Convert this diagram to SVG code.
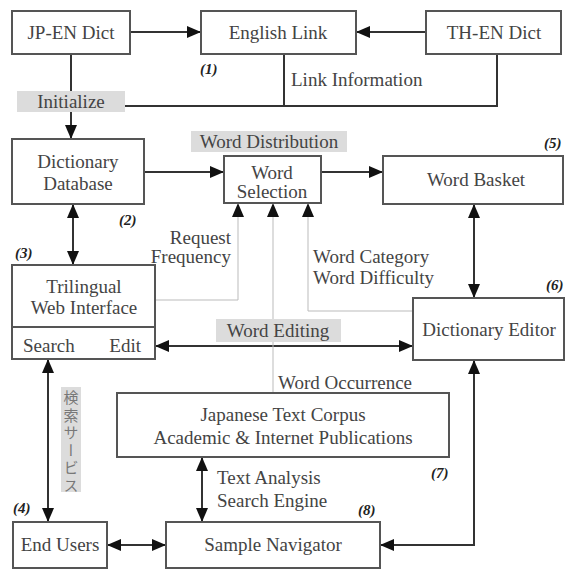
<svg xmlns="http://www.w3.org/2000/svg" width="566" height="569" viewBox="0 0 566 569" font-family="Liberation Serif, DejaVu Serif, serif">
<defs>
<marker id="ah" markerUnits="userSpaceOnUse" markerWidth="14" markerHeight="12" refX="14" refY="6" orient="auto-start-reverse" viewBox="0 0 14 12">
<path d="M0,0 L14,6 L0,12 z" fill="#111"/>
</marker>
<style>
.box{fill:#fff;stroke:#555;stroke-width:2}
.tag{fill:#dcdcdc;stroke:none}
.t{font-size:19px;fill:#444}
.c{text-anchor:middle}
.e{text-anchor:end}
.n{font-size:15px;font-weight:bold;font-style:italic;fill:#222}
.ln{fill:none;stroke:#333;stroke-width:2}
.g{fill:none;stroke:#bbb;stroke-width:1}
.a{marker-end:url(#ah)}
.b{marker-start:url(#ah);marker-end:url(#ah)}
</style>
</defs>
<rect width="566" height="569" fill="#fff"/>

<g id="connectors">
<line class="ln a" x1="130" y1="32" x2="201" y2="32"/>
<line class="ln a" x1="426" y1="32" x2="356" y2="32"/>
<line class="ln" x1="71" y1="54" x2="71" y2="91"/>
<line class="ln a" x1="71" y1="112" x2="71" y2="139"/>
<polyline class="ln" points="125,106 497,106 497,54"/>
<line class="ln" x1="284" y1="54" x2="284" y2="106"/>
<line class="ln a" x1="144" y1="172" x2="224" y2="172"/>
<line class="ln a" x1="321" y1="172" x2="383" y2="172"/>
<line class="ln b" x1="73" y1="204" x2="73" y2="265"/>
<line class="ln b" x1="474" y1="204" x2="474" y2="298"/>
<line class="ln b" x1="155" y1="346" x2="413" y2="346"/>
<line class="ln b" x1="48" y1="359" x2="48" y2="522"/>
<line class="ln b" x1="202" y1="457" x2="202" y2="522"/>
<line class="ln b" x1="107" y1="545" x2="166" y2="545"/>
<polyline class="ln b" points="474,360 474,545 380,545"/>
<polyline class="g" points="155,300 238,300 238,216"/>
<line class="g" x1="273" y1="393" x2="273" y2="216"/>
<polyline class="g" points="413,311 308,311 308,216"/>
<path d="M232,217 L238,203 L244,217 z M267,217 L273,203 L279,217 z M302,217 L308,203 L314,217 z" fill="#111"/>
</g>

<g id="jpen"><rect class="box" x="12" y="11" width="118" height="43"/><text class="t c" x="71" y="39">JP-EN Dict</text></g>
<g id="englishlink"><rect class="box" x="201" y="11" width="155" height="43"/><text class="t c" x="278" y="39">English Link</text></g>
<g id="then"><rect class="box" x="426" y="11" width="135" height="43"/><text class="t c" x="494" y="39">TH-EN Dict</text></g>
<g id="lbl1"><text class="n" x="200" y="74">(1)</text><text class="t" x="291" y="86">Link Information</text></g>
<g id="initialize"><rect class="tag" x="17" y="91" width="108" height="21"/><text class="t c" x="71" y="108">Initialize</text></g>

<g id="dictdb"><rect class="box" x="12" y="139" width="132" height="65"/><text class="t c" x="78" y="168">Dictionary</text><text class="t c" x="78" y="190">Database</text></g>
<g id="worddist"><rect class="tag" x="191" y="131" width="156" height="21"/><text class="t c" x="269" y="148">Word Distribution</text></g>
<g id="wordsel"><rect class="box" x="224" y="156" width="97" height="47"/><text class="t c" x="272" y="179">Word</text><text class="t c" x="272" y="198">Selection</text></g>
<g id="wordbasket"><rect class="box" x="383" y="156" width="180" height="48"/><text class="t c" x="476" y="186">Word Basket</text><text class="n" x="544" y="148">(5)</text></g>
<g id="lbl2"><text class="n" x="119" y="225">(2)</text><text class="n" x="15" y="258">(3)</text></g>
<g id="reqfreq"><text class="t e" x="231" y="244">Request</text><text class="t e" x="231" y="263">Frequency</text></g>
<g id="wordcat"><text class="t" x="313" y="263">Word Category</text><text class="t" x="313" y="284">Word Difficulty</text></g>

<g id="trilingual"><rect class="box" x="12" y="265" width="143" height="94"/><line x1="12" y1="327" x2="155" y2="327" stroke="#555" stroke-width="2"/><text class="t c" x="84" y="293">Trilingual</text><text class="t c" x="84" y="314">Web Interface</text><text class="t" x="23" y="352">Search</text><text class="t e" x="141" y="352">Edit</text></g>
<g id="wordediting"><rect class="tag" x="216" y="319" width="125" height="23"/><text class="t c" x="278" y="337">Word Editing</text></g>
<g id="dicteditor"><rect class="box" x="413" y="298" width="151" height="62"/><text class="t c" x="489" y="336">Dictionary Editor</text><text class="n" x="546" y="290">(6)</text></g>

<g id="service"><rect class="tag" x="61" y="387" width="20" height="105"/><text x="71" y="390" style="writing-mode:vertical-rl;text-orientation:upright;letter-spacing:2.5px" font-family="Noto Sans CJK JP, sans-serif" font-size="15" fill="#777">検索サービス</text></g>

<g id="corpus"><text class="t" x="278" y="389">Word Occurrence</text><rect class="box" x="117" y="393" width="332" height="64"/><text class="t c" x="283" y="421">Japanese Text Corpus</text><text class="t c" x="283" y="444">Academic &amp; Internet Publications</text><text class="n" x="431" y="478">(7)</text></g>
<g id="textanalysis"><text class="t" x="217" y="484">Text Analysis</text><text class="t" x="217" y="507">Search Engine</text></g>

<g id="endusers"><text class="n" x="13" y="513">(4)</text><rect class="box" x="13" y="522" width="94" height="46"/><text class="t c" x="60" y="551">End Users</text></g>
<g id="samplenav"><text class="n" x="358" y="515">(8)</text><rect class="box" x="166" y="522" width="214" height="46"/><text class="t c" x="273" y="551">Sample Navigator</text></g>
</svg>
